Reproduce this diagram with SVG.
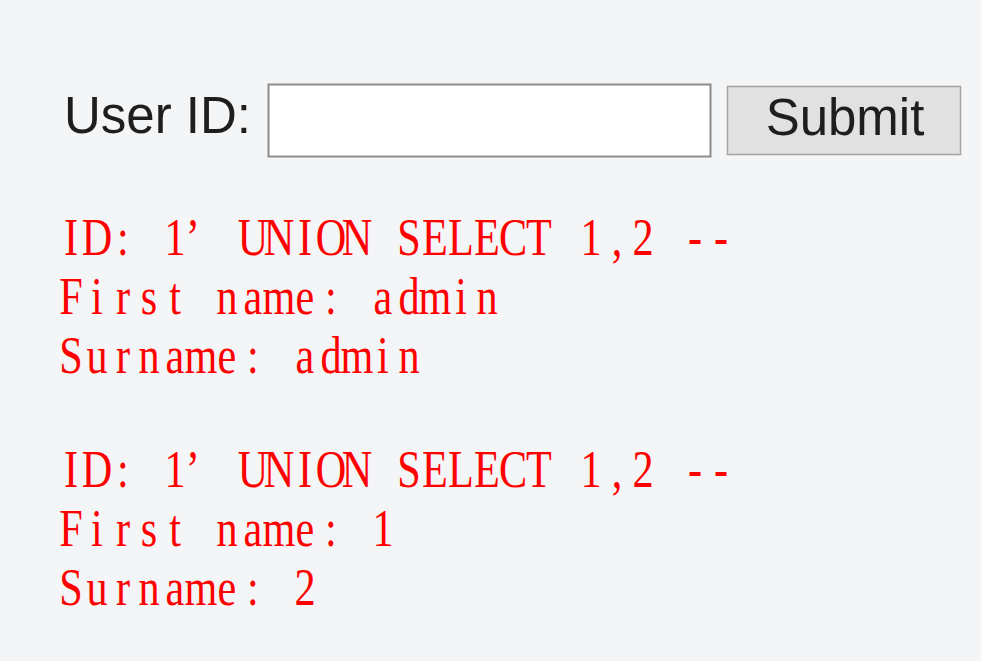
<svg xmlns="http://www.w3.org/2000/svg" width="981" height="661" viewBox="0 0 981 661">
<style>
.lbl{font-family:"Liberation Sans",Arial,sans-serif;font-size:51px;fill:#1e1e1e}
.out{font-family:"Liberation Serif","Times New Roman",serif;font-size:52px;fill:#ff0000;text-anchor:middle}
</style>
<rect width="981" height="661" fill="#f4f5f6"/>
<g id="form">
<text class="lbl" x="64" y="133">User ID:</text>
<rect id="input" x="268.5" y="84.5" width="442" height="72" fill="#ffffff" stroke="#8c8c8c" stroke-width="2"/>
<g id="submit">
<rect x="727.5" y="86.5" width="233" height="68" fill="#e1e1e1" stroke="#a3a3a3" stroke-width="1.5"/>
<text class="lbl" x="845" y="135" text-anchor="middle">Submit</text>
</g>
</g>
<g id="result1">
<text class="out" transform="translate(71,255) scale(0.8125,1)" x="0 32 64 96 128 150 192 224 256 288 320 352 384 416 448 480 512 544 576 608 640 672 704 736 768 800">ID: 1’ UNION SELECT 1,2 --</text>
<text class="out" transform="translate(71,314) scale(0.8125,1)" x="0 32 64 96 128 160 192 224 256 288 320 352 384 416 448 480 512">First name: admin</text>
<text class="out" transform="translate(71,373) scale(0.8125,1)" x="0 32 64 96 128 160 192 224 256 288 320 352 384 416">Surname: admin</text>
</g>
<g id="result2">
<text class="out" transform="translate(71,487) scale(0.8125,1)" x="0 32 64 96 128 150 192 224 256 288 320 352 384 416 448 480 512 544 576 608 640 672 704 736 768 800">ID: 1’ UNION SELECT 1,2 --</text>
<text class="out" transform="translate(71,546) scale(0.8125,1)" x="0 32 64 96 128 160 192 224 256 288 320 352 384">First name: 1</text>
<text class="out" transform="translate(71,605) scale(0.8125,1)" x="0 32 64 96 128 160 192 224 256 288">Surname: 2</text>
</g>
</svg>
